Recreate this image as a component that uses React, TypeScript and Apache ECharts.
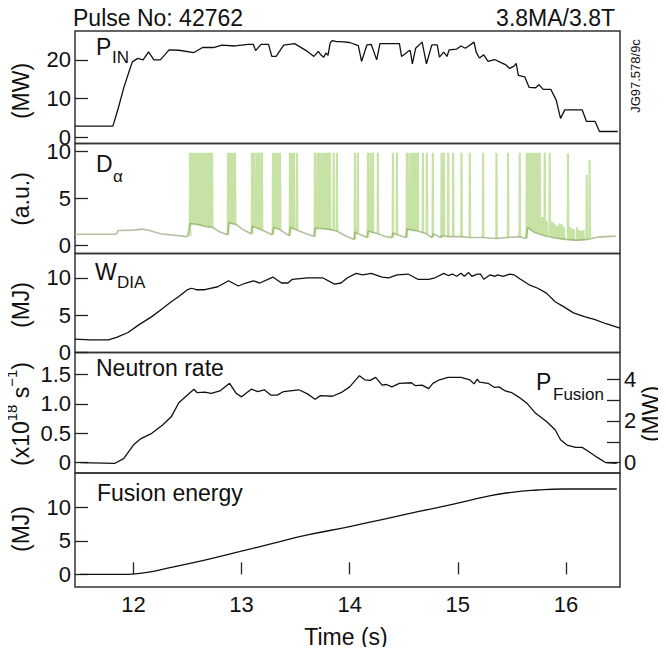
import React, { useEffect, useRef } from "react";
import * as echarts from "echarts";

// ---------- data ----------
const timeTicks = [12, 13, 14, 15, 16];

const pInTicks = [0, 10, 20];
const dAlphaTicks = [0, 5, 10];
const wDiaTicks = [0, 5, 10];
const neutronTicks = [0, 0.5, 1.0, 1.5];
const pFusionTicks = [0, 1, 2, 3, 4];
const pFusionLabels = [0, 2, 4];
const fusionEnergyTicks = [0, 5, 10];

// neutron rate (1e18 /s) -> fusion power (MW)
const NEUTRON_TO_MW = 2.82;

const pIn: [number, number][] = [
  [11.46, 2.9], [11.81, 2.9], [11.86, 7.5], [11.91, 12.7], [11.96, 17.0], [11.99, 19.5],
  [12.04, 20.4], [12.09, 20.0], [12.14, 22.1], [12.19, 20.0], [12.25, 20.0], [12.33, 22.6],
  [12.42, 22.5], [12.56, 21.9], [12.64, 23.2], [12.74, 23.2], [12.82, 23.8], [12.94, 23.6],
  [13.06, 24.0], [13.11, 24.0], [13.13, 22.4], [13.18, 24.0], [13.25, 24.0], [13.28, 20.9],
  [13.32, 20.9], [13.39, 23.8], [13.49, 24.2], [13.61, 22.2], [13.67, 20.9], [13.71, 22.2],
  [13.73, 21.4], [13.76, 20.7], [13.78, 21.8], [13.8, 21.2], [13.82, 24.4], [13.84, 25.0],
  [13.88, 24.7], [13.92, 24.7], [14.0, 24.5], [14.08, 23.7], [14.11, 19.6], [14.16, 23.9],
  [14.2, 24.0], [14.25, 20.0], [14.28, 24.2], [14.38, 24.2], [14.46, 24.2], [14.48, 20.9],
  [14.54, 22.2], [14.56, 22.5], [14.58, 19.0], [14.61, 23.0], [14.67, 24.6], [14.71, 19.0],
  [14.76, 23.9], [14.81, 23.9], [14.83, 20.7], [14.87, 22.0], [14.9, 20.9], [14.92, 22.6],
  [14.99, 22.8], [15.03, 23.6], [15.07, 23.0], [15.11, 23.8], [15.15, 24.6], [15.17, 22.0],
  [15.2, 20.5], [15.24, 21.3], [15.28, 19.6], [15.34, 20.1], [15.4, 19.3], [15.44, 18.8],
  [15.48, 17.8], [15.52, 18.4], [15.54, 19.1], [15.56, 16.0], [15.62, 15.6], [15.66, 12.9],
  [15.72, 12.8], [15.75, 13.6], [15.79, 12.4], [15.86, 12.4], [15.91, 9.6], [15.95, 4.9],
  [15.99, 7.1], [16.15, 7.1], [16.19, 4.1], [16.27, 4.1], [16.31, 1.5], [16.48, 1.5],
];

const dAlphaBase: [number, number][] = [
  [11.46, 1.15], [11.84, 1.15], [11.86, 1.55], [12.0, 1.6], [12.08, 1.7], [12.15, 1.55],
  [12.25, 1.2], [12.5, 0.9], [12.525, 2.3], [12.6, 2.2], [12.66, 2.0], [12.73, 1.9],
  [12.8, 1.4], [12.87, 1.1], [12.885, 2.4], [12.95, 2.2], [13.02, 1.6], [13.09, 1.2],
  [13.1, 2.0], [13.19, 1.6], [13.28, 1.1], [13.3, 1.9], [13.36, 1.6], [13.44, 1.0],
  [13.45, 1.9], [13.51, 1.6], [13.6, 1.2], [13.67, 0.9], [13.68, 1.8], [13.8, 1.7],
  [13.88, 1.5], [13.96, 1.0], [14.04, 0.6], [14.05, 1.4], [14.08, 1.2], [14.16, 0.8],
  [14.17, 1.5], [14.26, 1.2], [14.33, 0.9], [14.39, 0.8], [14.4, 1.3], [14.44, 1.1],
  [14.52, 0.8], [14.53, 1.7], [14.63, 1.5], [14.71, 1.2], [14.76, 0.8], [14.77, 1.2],
  [14.84, 0.8], [14.85, 1.0], [14.91, 0.9], [14.95, 0.9], [15.03, 0.9], [15.1, 0.8],
  [15.23, 0.8], [15.35, 0.7], [15.46, 0.8], [15.57, 0.9], [15.63, 0.7], [15.645, 1.9],
  [15.7, 1.4], [15.8, 1.0], [15.9, 0.75], [16.0, 0.6], [16.1, 0.5], [16.2, 0.6],
  [16.3, 0.85], [16.46, 0.95],
];

// ELM spikes: [time, value before spike, peak]
const dAlphaElms: [number, number, number][] = [
  [12.522, 0.9, 9.9], [12.532, 2.3, 9.9], [12.545, 2.2, 9.9], [12.557, 2.2, 9.9], [12.569, 2.2, 9.9],
  [12.58, 2.2, 9.9], [12.592, 2.1, 9.9], [12.603, 2.1, 9.9], [12.615, 2.1, 9.9], [12.628, 2.1, 9.9],
  [12.64, 2.0, 9.9], [12.65, 2.0, 9.9], [12.661, 2.0, 9.9], [12.68, 2.0, 9.9], [12.7, 1.9, 9.9],
  [12.713, 1.9, 9.9], [12.726, 1.9, 9.9],
  [12.873, 1.1, 9.9], [12.878, 2.4, 9.9], [12.883, 2.3, 9.9], [12.888, 2.3, 9.9], [12.893, 2.3, 9.9],
  [12.898, 2.3, 9.9], [12.903, 2.3, 9.9], [12.908, 2.3, 9.9], [12.913, 2.2, 9.9], [12.918, 2.2, 9.9],
  [12.925, 2.2, 9.9], [12.931, 2.2, 9.9], [12.938, 2.2, 9.9],
  [13.095, 1.2, 9.9], [13.107, 2.0, 9.9], [13.118, 1.9, 9.9], [13.141, 1.8, 9.9], [13.153, 1.8, 9.9],
  [13.165, 1.7, 9.9], [13.187, 1.6, 9.9],
  [13.289, 1.1, 9.9], [13.298, 1.9, 9.9], [13.307, 1.8, 9.9], [13.326, 1.8, 9.9], [13.34, 1.7, 9.9],
  [13.354, 1.6, 9.9],
  [13.446, 1.0, 9.9], [13.455, 1.9, 9.9], [13.465, 1.8, 9.9], [13.483, 1.7, 9.9], [13.511, 1.6, 9.9],
  [13.677, 0.9, 9.9], [13.7, 1.8, 9.9], [13.712, 1.8, 9.9], [13.723, 1.8, 9.9], [13.745, 1.75, 9.9],
  [13.758, 1.75, 9.9], [13.77, 1.7, 9.9], [13.79, 1.7, 9.9], [13.803, 1.65, 9.9], [13.816, 1.6, 9.9],
  [13.85, 1.55, 9.9], [13.88, 1.5, 9.9],
  [14.047, 0.6, 9.9], [14.074, 1.3, 9.9],
  [14.167, 0.8, 9.9], [14.19, 1.4, 9.9], [14.213, 1.3, 9.9], [14.259, 1.2, 9.9],
  [14.398, 0.8, 9.9], [14.435, 1.1, 9.9],
  [14.527, 0.8, 9.9], [14.55, 1.6, 9.9], [14.573, 1.6, 9.9], [14.587, 1.55, 9.9], [14.6, 1.5, 9.9],
  [14.615, 1.5, 9.9], [14.629, 1.5, 9.9], [14.675, 1.3, 9.9], [14.712, 1.2, 9.9],
  [14.767, 0.8, 9.9], [14.848, 0.8, 9.9], [14.87, 1.0, 9.9], [14.909, 0.9, 9.9], [14.955, 0.9, 9.9],
  [15.032, 0.9, 9.9], [15.109, 0.8, 9.9], [15.232, 0.8, 9.9], [15.356, 0.7, 9.9], [15.463, 0.8, 9.9],
  [15.571, 0.9, 9.9],
  [15.636, 0.7, 9.9], [15.643, 1.9, 9.9], [15.65, 1.8, 9.9], [15.657, 1.8, 9.9], [15.663, 1.7, 9.9],
  [15.67, 1.7, 9.9], [15.68, 1.6, 9.9], [15.695, 1.5, 9.9], [15.709, 1.4, 9.9], [15.72, 1.35, 9.9],
  [15.73, 1.3, 9.9], [15.743, 1.25, 9.9], [15.756, 1.2, 9.9], [15.78, 1.1, 3.0], [15.802, 1.0, 9.9],
  [15.82, 0.95, 2.6], [15.848, 0.9, 9.9], [15.865, 0.85, 2.5],
  [15.88, 0.8, 2.4], [15.9, 0.75, 2.2], [15.92, 0.7, 2.0], [15.94, 0.65, 2.3], [15.96, 0.6, 2.2],
  [15.98, 0.6, 1.9], [16.017, 0.6, 9.8], [16.03, 0.55, 1.9], [16.05, 0.5, 1.8], [16.07, 0.5, 1.7],
  [16.1, 0.5, 1.9], [16.12, 0.5, 1.6], [16.14, 0.5, 1.5], [16.16, 0.55, 1.6], [16.19, 0.6, 7.5],
  [16.217, 0.7, 9.1],
];

const wDia: [number, number][] = [
  [11.46, 1.79], [11.6, 1.7], [11.77, 1.7], [11.85, 2.06], [11.95, 2.68], [12.05, 3.7],
  [12.17, 4.8], [12.27, 5.9], [12.35, 6.8], [12.42, 7.5], [12.5, 8.4], [12.54, 8.6],
  [12.58, 8.4], [12.66, 8.4], [12.78, 8.8], [12.88, 9.6], [12.97, 8.9], [13.04, 9.3],
  [13.11, 9.6], [13.17, 9.3], [13.29, 10.1], [13.37, 9.3], [13.43, 9.3], [13.47, 9.8],
  [13.61, 10.0], [13.75, 10.0], [13.86, 9.15], [13.92, 9.3], [13.98, 10.0], [14.06, 10.6],
  [14.12, 10.4], [14.2, 10.6], [14.3, 10.1], [14.36, 10.0], [14.44, 10.4], [14.54, 10.5],
  [14.63, 9.8], [14.73, 9.8], [14.79, 10.0], [14.87, 10.6], [14.91, 10.3], [14.95, 10.5],
  [14.99, 10.2], [15.03, 10.6], [15.06, 10.2], [15.1, 10.7], [15.13, 10.2], [15.18, 10.5],
  [15.21, 10.5], [15.24, 9.8], [15.3, 10.4], [15.34, 10.2], [15.37, 10.4], [15.42, 10.2],
  [15.48, 10.5], [15.52, 10.4], [15.58, 9.8], [15.66, 9.06], [15.74, 8.6], [15.82, 7.95],
  [15.9, 6.8], [15.97, 6.2], [16.07, 5.3], [16.17, 4.8], [16.27, 4.4], [16.37, 3.85],
  [16.5, 3.25],
];

const neutronRate: [number, number][] = [
  [11.51, 0.0], [11.83, -0.01], [11.91, 0.07], [12.0, 0.3], [12.07, 0.41], [12.17, 0.5],
  [12.27, 0.64], [12.35, 0.78], [12.42, 1.02], [12.5, 1.15], [12.56, 1.25], [12.59, 1.19],
  [12.66, 1.2], [12.72, 1.18], [12.8, 1.22], [12.89, 1.35], [12.95, 1.18], [13.0, 1.12],
  [13.09, 1.25], [13.15, 1.21], [13.21, 1.24], [13.27, 1.15], [13.33, 1.15], [13.39, 1.21],
  [13.53, 1.24], [13.61, 1.17], [13.68, 1.08], [13.73, 1.14], [13.84, 1.13], [13.92, 1.19],
  [14.0, 1.29], [14.09, 1.48], [14.14, 1.41], [14.19, 1.4], [14.24, 1.45], [14.3, 1.32],
  [14.34, 1.33], [14.39, 1.29], [14.46, 1.35], [14.57, 1.36], [14.61, 1.31], [14.67, 1.32],
  [14.73, 1.26], [14.77, 1.35], [14.83, 1.41], [14.91, 1.45], [15.03, 1.45], [15.11, 1.41],
  [15.15, 1.34], [15.18, 1.42], [15.2, 1.37], [15.28, 1.35], [15.34, 1.28], [15.38, 1.29],
  [15.44, 1.22], [15.5, 1.19], [15.56, 1.12], [15.64, 1.01], [15.72, 0.84], [15.82, 0.7],
  [15.9, 0.56], [15.95, 0.39], [16.01, 0.3], [16.09, 0.26], [16.15, 0.26], [16.21, 0.19],
  [16.29, 0.09], [16.37, 0.0], [16.47, -0.01],
];

const fusionEnergy: [number, number][] = [
  [11.51, 0], [11.95, 0], [12.11, 0.25], [12.35, 1.05], [12.66, 2.14], [12.98, 3.39],
  [13.29, 4.65], [13.61, 5.9], [14.0, 7.15], [14.32, 8.29], [14.63, 9.39], [14.95, 10.49],
  [15.26, 11.64], [15.5, 12.3], [15.74, 12.64], [15.97, 12.79], [16.47, 12.79],
];

// ---------- chart ----------
const FONT = "'Liberation Sans', Arial, sans-serif";
const X_MIN = 11.46;
const X_MAX = 16.5;

export default function App() {
  const ref = useRef<HTMLDivElement>(null);

  useEffect(() => {
    if (!ref.current) return;
    const chart = echarts.init(ref.current, null, { renderer: "svg" });

    const grids = [
      { top: 31, height: 112.5 },
      { top: 143.5, height: 110 },
      { top: 253.5, height: 99 },
      { top: 352.5, height: 120.5 },
      { top: 473, height: 114 },
    ].map((g) => ({
      left: 75,
      right: 46,
      top: g.top,
      height: g.height,
      show: true,
      borderColor: "#333",
      borderWidth: 1.5,
      backgroundColor: "transparent",
    }));

    const xAxes = grids.map((_, i) => ({
      type: "value" as const,
      gridIndex: i,
      min: X_MIN,
      max: X_MAX,
      axisLine: { show: false },
      splitLine: { show: false },
      axisTick: {
        show: i === 4,
        inside: true,
        length: 12,
        customValues: timeTicks,
        lineStyle: { color: "#222", width: 1.3 },
      },
      axisLabel: {
        show: i === 4,
        customValues: timeTicks,
        fontFamily: FONT,
        fontSize: 22,
        color: "#111",
        margin: 6,
      },
    }));

    const yAxis = (
      grid: number,
      min: number,
      max: number,
      ticks: number[],
      labels: number[],
      position: "left" | "right" = "left",
      fmt?: (v: number) => string
    ) => ({
      type: "value" as const,
      gridIndex: grid,
      position,
      min,
      max,
      axisLine: { show: false },
      splitLine: { show: false },
      axisTick: {
        show: true,
        inside: true,
        length: 13,
        customValues: ticks,
        lineStyle: { color: "#222", width: 1.3 },
      },
      axisLabel: {
        customValues: labels,
        fontFamily: FONT,
        fontSize: 22,
        color: "#111",
        margin: 4,
        formatter: fmt ? (v: number) => fmt(v) : undefined,
      },
    });

    const yAxes = [
      yAxis(0, -1.6, 27.47, pInTicks, pInTicks),
      yAxis(1, -0.91, 10.88, dAlphaTicks, dAlphaTicks),
      yAxis(2, 0, 13.25, wDiaTicks, wDiaTicks),
      yAxis(3, -0.175, 1.874, neutronTicks, neutronTicks, "left", (v) =>
        v === 0 ? "0" : v.toFixed(1)
      ),
      yAxis(3, -0.175 * NEUTRON_TO_MW, 1.874 * NEUTRON_TO_MW, pFusionTicks, pFusionLabels, "right"),
      yAxis(4, -1.9, 15.19, fusionEnergyTicks, fusionEnergyTicks),
    ];

    const elmData: any[] = [];
    dAlphaElms.forEach(([t, lo, hi]) => {
      elmData.push([t, lo], [t + 0.002, hi], [t + 0.005, lo], [t + 0.005, "-"]);
    });

    const line = (data: any[], xi: number, yi: number, color = "#111", width = 1.3, smooth = false) => ({
      type: "line" as const,
      xAxisIndex: xi,
      yAxisIndex: yi,
      data,
      symbol: "none",
      showSymbol: false,
      connectNulls: false,
      smooth,
      lineStyle: { color, width },
      itemStyle: { color },
      silent: true,
    });

    const txt = (
      text: string,
      x: number,
      y: number,
      fontSize: number,
      align: "left" | "center" | "right" = "left",
      rotation = 0
    ) => ({
      type: "text" as const,
      x,
      y,
      rotation,
      silent: true,
      style: {
        text,
        fill: "#111",
        fontFamily: FONT,
        fontSize,
        align,
        textAlign: align,
        verticalAlign: "middle",
        textVerticalAlign: "middle",
      },
    });

    const R = Math.PI / 2;

    chart.setOption({
      animation: false,
      backgroundColor: "#fff",
      grid: grids,
      xAxis: xAxes,
      yAxis: yAxes,
      series: [
        line(pIn, 0, 0),
        line(dAlphaBase, 1, 1, "#b4c2a0", 1.6),
        line(elmData, 1, 1, "rgba(120,186,38,0.42)", 2.2),
        line(wDia, 2, 2),
        line(neutronRate, 3, 3),
        line(fusionEnergy, 4, 5, "#111", 1.3, true),
      ],
      graphic: [
        txt("Pulse No: 42762", 73, 18, 23),
        txt("3.8MA/3.8T", 615, 18, 23, "right"),
        txt("JG97.578/9c", 635, 76, 13, "center", R),
        // panel labels
        txt("P", 96, 47, 23),
        txt("IN", 112, 57, 17),
        txt("D", 96, 164, 23),
        txt("\u03b1", 113, 176, 17),
        txt("W", 95, 272, 23),
        txt("DIA", 117, 282, 17),
        txt("Neutron rate", 96, 368, 23),
        txt("P", 536, 382, 23),
        txt("Fusion", 553, 394, 17),
        txt("Fusion energy", 97, 493, 23),
        // axis names
        txt("(MW)", 21, 91, 23, "center", R),
        txt("(a.u.)", 21, 199, 23, "center", R),
        txt("(MJ)", 21, 305, 23, "center", R),
        {
          type: "text",
          x: 21,
          y: 414,
          rotation: R,
          silent: true,
          style: {
            text: "(x10{sup|18} s{sup|\u22121})",
            fill: "#111",
            fontFamily: FONT,
            fontSize: 23,
            lineHeight: 34,
            align: "center",
            textAlign: "center",
            verticalAlign: "middle",
            textVerticalAlign: "middle",
            rich: {
              sup: {
                fontFamily: FONT,
                fontSize: 15,
                lineHeight: 20,
                verticalAlign: "top",
                fill: "#111",
              },
            },
          },
        },
        txt("(MJ)", 21, 529, 23, "center", R),
        txt("(MW)", 651, 414, 23, "center", R),
        txt("Time (s)", 346, 637, 23, "center"),
      ],
    });

    return () => chart.dispose();
  }, []);

  return <div ref={ref} style={{ width: 666, height: 655, margin: -8 }} />;
}
